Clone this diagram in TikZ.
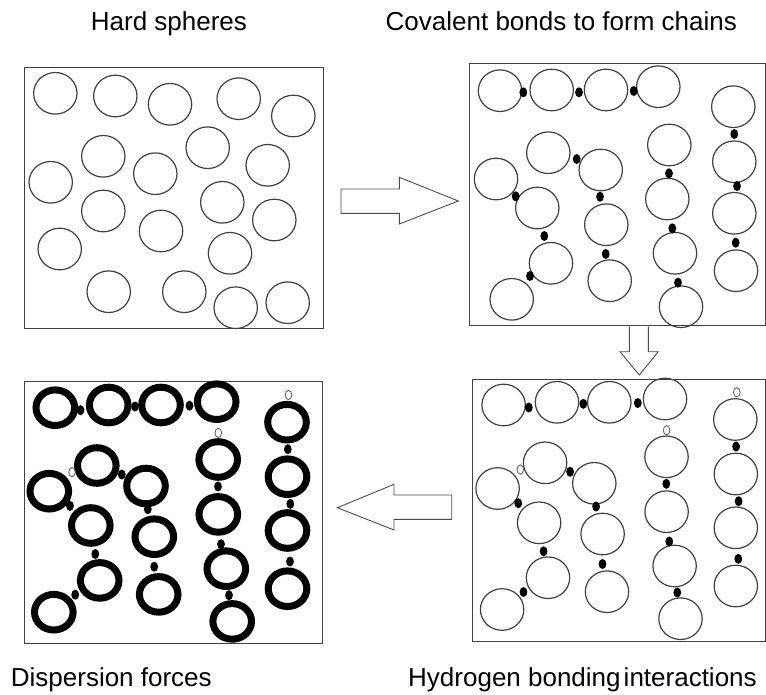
\documentclass[tikz,border=0pt]{standalone}
\usepackage{fontspec}
\setmainfont{Liberation Sans}
\usepackage{tikz}
\tikzset{
    panel-box/.style = {draw=black!75, line width=1pt},
    sphere/.style = {draw=black!75, line width=1.2pt},
    sphere-r/.style = {x radius=21.7pt, y radius=20.8pt},
    fat-sphere/.style = {draw=black, line width=7pt},
    fat-sphere-r/.style = {x radius=19.3pt, y radius=17.8pt},
    bond-dot/.style = {fill=black},
    dot-r/.style = {x radius=3.9pt, y radius=5pt},
    h-site/.style = {draw=black!60, line width=0.9pt, fill=white},
    block-arrow/.style = {draw=black!70, line width=0.9pt, fill=white, line join=miter},
    panel-title/.style = {font=\fontsize{26}{30}\selectfont, anchor=base west, inner sep=0pt},
}
% chains with hydrogen sites, same layout in both lower panels
\newcommand{\chainset}[3]{%
  \begin{scope}[shift={#1}]
    \foreach \cx/\cy in {31.3/26, 84.7/23.3, 137/23.3, 192.7/20,
        263/40.5, 263.5/95, 263.5/148.8, 263.5/207,
        194.2/77.8, 194.3/132.7, 202.3/187, 208.2/239.7,
        72.8/83.8, 122/104.3, 130.3/155, 134.7/212.7,
        25.3/109.5, 66.8/143.8, 75.7/198.7, 29.8/230.5}
      \draw[#2] (\cx,\cy) circle [#3];
    \foreach \bx/\by in {56.5/28.5, 111/24.8, 165.5/24,
        263.8/67.5, 266.3/122.2, 266/179.8,
        194/104.8, 197/162.5, 205/213.5,
        97.8/92.8, 123.8/127.5, 130.2/185,
        46/124.2, 71.3/172.3, 51.2/213}
      \fill[bond-dot] (\bx,\by) circle [dot-r];
    \foreach \hx/\hy in {264.5/13.3, 194.3/51.2, 48/90.5}
      \draw[h-site] (\hx,\hy) circle [x radius=3.3pt, y radius=4.6pt];
  \end{scope}}

\begin{document}
\begin{tikzpicture}[x=1pt, y=-1pt]
\useasboundingbox (0,0) rectangle (766,694);

\node[panel-title] (hard) at (90.7,30) {Hard spheres};
\node[panel-title] (covalent) at (385.5,30) {Covalent bonds to form chains};
\node[panel-title] (dispersion) at (10.7,686.7) {Dispersion forces};
\node[panel-title] (hbond) at (408,686.7) {Hydrogen bonding\hspace{0.12em}interactions};

\draw[panel-box] (24,67) rectangle (323,328);
\draw[panel-box] (469.3,63.3) rectangle (765,325.7);
\draw[panel-box] (472.3,379) rectangle (765,641.7);
\draw[panel-box] (24,381.7) rectangle (322.3,643.3);

% hard spheres
\foreach \cx/\cy in {55.3/93.3, 115.3/96, 170/104.3, 238.7/98.7, 293.3/116,
    103.3/156.3, 207.7/147.7, 267.7/165.3, 50.7/182.3, 155.3/173.7,
    103.3/211, 222.3/202.3, 274.3/220, 161/231, 59.7/249,
    230/253.3, 108.7/291.7, 184.3/291.7, 235.7/307.7, 287.7/302.7}
  \draw[sphere] (\cx,\cy) circle [sphere-r];

% covalent chains
\foreach \cx/\cy in {500/90.7, 551.7/90, 606/90, 658.3/86.7,
    733.3/106.7, 734.3/161.7, 734.3/213.3, 736/270.7,
    669.3/145, 667.3/199, 675/253.3, 681/306.7,
    548.3/152.7, 600.7/170, 606.3/224.7, 609.7/280.7,
    496/179, 537.3/208, 551/263.3, 511.7/299.3}
  \draw[sphere] (\cx,\cy) circle [sphere-r];
\foreach \bx/\by in {523.3/92.3, 579/92.3, 633.7/91,
    734.3/134, 737/186, 735.7/242.7,
    669/173.3, 672.3/228.3, 678/282.7,
    576.7/159, 600/196.7, 605.7/254,
    515.7/196.3, 544.3/236, 530/276}
  \fill[bond-dot] (\bx,\by) circle [dot-r];

\chainset{(472.3,379)}{sphere}{sphere-r}
\chainset{(24,381.7)}{fat-sphere}{fat-sphere-r}

% arrows between panels
\draw[block-arrow] (341,189) -- (399.3,189) -- (399.3,177.3) -- (458.3,201)
    -- (399.3,224) -- (399.3,213.3) -- (341,213.3) -- cycle;
\draw[block-arrow] (629.3,326.7) -- (629.3,351.7) -- (620,351.7) -- (639.3,375)
    -- (658.3,351.7) -- (648.3,351.7) -- (648.3,326.7);
\draw[block-arrow] (451.7,495) -- (394,495) -- (394,484.3) -- (337.3,507.7)
    -- (394,530) -- (394,519.3) -- (451.7,519.3) -- cycle;
\end{tikzpicture}
\end{document}
